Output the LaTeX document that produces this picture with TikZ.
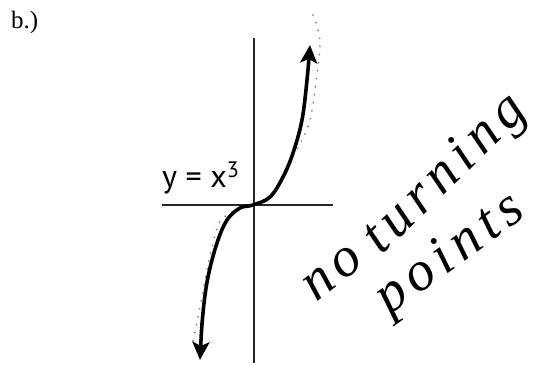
\documentclass[tikz,border=0pt]{standalone}
\usepackage{fontspec}
\setmainfont{Liberation Serif}
\newfontfamily\labelfont{PT Sans}
\newfontfamily\handfont[LetterSpace=12]{Liberation Serif}
\usetikzlibrary{arrows.meta}

\tikzset{
    axisline/.style={line width=1.1pt, black!85},
    cubeline/.style={line width=3.6pt,
        {Stealth[length=18pt,width=17pt,inset=4pt]}-{Stealth[length=18pt,width=17pt,inset=4pt]}},
    pencildots/.style={black!50, line width=1.9pt, line cap=round, dash pattern=on 0.1pt off 8pt},
    scribble/.style={font=\handfont\fontsize{56}{56}\selectfont\itshape, inner sep=0pt, anchor=base west}
}

\begin{document}
\begin{tikzpicture}[x=1pt, y=-1pt]
    \useasboundingbox (0,0) rectangle (546,369);
    % part label
    \node[anchor=north west, font=\fontsize{25}{25}\selectfont, inner sep=0pt] (part) at (11,11) {b.)};
    % axes
    \coordinate (ytop) at (254,38);
    \coordinate (ybot) at (254,363);
    \coordinate (xleft) at (162,205);
    \coordinate (xright) at (333,205);
    \draw[axisline] (ytop) -- (ybot);
    \draw[axisline] (xleft) -- (xright);
    % faint pencil sketch beside the curve
    \draw[pencildots] plot[smooth] coordinates {(313,15) (320,42) (315,90) (310,120) (302,140) (285,170)};
    \draw[pencildots] plot[smooth] coordinates {(232,212) (220,221) (213,243) (208,265) (200,307) (193,342)};
    % the cubic
    \draw[cubeline] plot[smooth, tension=0.6] coordinates {(200,360) (203,313) (208,277) (217,243) (227,220) (240,208) (253,205) (270,197) (283,177) (293,153) (302,120) (307,80) (310,45)};
    % equation label
    \node[anchor=base west, font=\labelfont\fontsize{32}{32}\selectfont, inner sep=0pt] (eq) at (162,187) {y = x\textsuperscript{3}};
    % handwritten note
    \node[scribble, rotate=38] (noword) at (316,303) {no};
    \node[scribble, rotate=44] (turnword) at (381,256) {turning};
    \node[scribble, rotate=36] (pointword) at (389,316) {points};
\end{tikzpicture}
\end{document}
